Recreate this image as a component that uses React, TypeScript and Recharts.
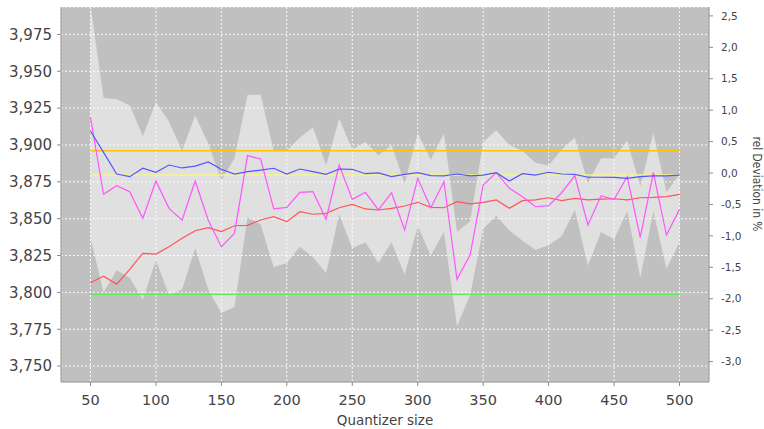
import { ComposedChart, Line, Area, XAxis, YAxis, CartesianGrid, Label } from 'recharts';

const SIZES = [
  50, 60, 70, 80, 90, 100, 110, 120, 130, 140, 150, 160, 170, 180, 190, 200,
  210, 220, 230, 240, 250, 260, 270, 280, 290, 300, 310, 320, 330, 340, 350,
  360, 370, 380, 390, 400, 410, 420, 430, 440, 450, 460, 470, 480, 490, 500,
];

// grey envelope (min / max)
const BAND_HIGH = [
  3.995, 3.932, 3.931, 3.927, 3.906, 3.929, 3.916, 3.896, 3.92, 3.901, 3.876, 3.891, 3.934, 3.934, 3.896, 3.896,
  3.905, 3.912, 3.886, 3.918, 3.897, 3.902, 3.893, 3.9, 3.874, 3.908, 3.89, 3.908, 3.841, 3.848, 3.902,
  3.91, 3.9, 3.896, 3.888, 3.886, 3.897, 3.905, 3.874, 3.891, 3.891, 3.903, 3.872, 3.908, 3.868, 3.88,
];
const BAND_LOW = [
  3.837, 3.8, 3.815, 3.81, 3.795, 3.822, 3.798, 3.802, 3.83, 3.802, 3.786, 3.79, 3.851, 3.846, 3.817, 3.82,
  3.831, 3.824, 3.813, 3.853, 3.83, 3.834, 3.82, 3.834, 3.812, 3.845, 3.825, 3.841, 3.777, 3.798, 3.843,
  3.852, 3.842, 3.835, 3.829, 3.832, 3.838, 3.856, 3.818, 3.841, 3.836, 3.855, 3.81, 3.855, 3.816, 3.834,
];

const BLUE = [
  3.9095, 3.895, 3.8803, 3.8785, 3.8842, 3.8815, 3.8864, 3.8844, 3.8857, 3.8885, 3.8835, 3.8803, 3.8819, 3.883, 3.8842, 3.8803,
  3.8837, 3.8819, 3.8801, 3.8837, 3.8835, 3.8805, 3.881, 3.8785, 3.8801, 3.8812, 3.8792, 3.879, 3.8803, 3.879, 3.8796,
  3.8812, 3.8756, 3.8805, 3.8796, 3.8815, 3.8803, 3.8801, 3.8781, 3.8781, 3.878, 3.8774, 3.8785, 3.879, 3.879, 3.8796,
];
const MAGENTA = [
  3.9188, 3.8665, 3.8724, 3.8683, 3.8502, 3.8756, 3.857, 3.849, 3.8756, 3.849, 3.831, 3.84, 3.8928, 3.8905, 3.8566, 3.8577,
  3.8679, 3.8683, 3.8496, 3.8864, 3.8631, 3.8679, 3.8559, 3.8676, 3.8423, 3.8774, 3.8574, 3.8751, 3.8088, 3.8253, 3.8728,
  3.8812, 3.8706, 3.8649, 3.8581, 3.8588, 3.8676, 3.8792, 3.8457, 3.8654, 3.8631, 3.8785, 3.8373, 3.8812, 3.8389, 3.8563,
];
const RED = [
  3.8065, 3.811, 3.8056, 3.8156, 3.8265, 3.826, 3.831, 3.8367, 3.8418, 3.8439, 3.8412, 3.8452, 3.8455, 3.8491, 3.8514, 3.848,
  3.8547, 3.853, 3.8536, 3.8574, 3.8597, 3.8566, 3.8559, 3.857, 3.8586, 3.8611, 3.8577, 3.8574, 3.8615, 3.86, 3.8611,
  3.8627, 3.857, 3.8622, 3.8627, 3.8642, 3.8622, 3.8638, 3.8627, 3.8633, 3.8635, 3.8627, 3.8642, 3.8644, 3.8649, 3.8665,
];

const ORANGE_LEVEL = 3.8961;
const YELLOW_LEVEL = 3.8796;
const GREEN_LEVEL = 3.7988;

const X_TICKS = [50, 100, 150, 200, 250, 300, 350, 400, 450, 500];
const LEFT_TICKS = [3.75, 3.775, 3.8, 3.825, 3.85, 3.875, 3.9, 3.925, 3.95, 3.975];
const RIGHT_TICKS = [-3, -2.5, -2, -1.5, -1, -0.5, 0, 0.5, 1, 1.5, 2, 2.5];

const rows = SIZES.map((q, i) => ({
  q,
  band: [BAND_LOW[i], BAND_HIGH[i]],
  blue: BLUE[i],
  magenta: MAGENTA[i],
  red: RED[i],
  orange: ORANGE_LEVEL,
  yellow: YELLOW_LEVEL,
  green: GREEN_LEVEL,
}));

const AXIS = '#8c8c8c';
const TEXT = '#444444';

const fmt3 = (v: number) => v.toFixed(3).replace('.', ',');
const fmt1 = (v: number) => v.toFixed(1).replace('.', ',');

export default function App() {
  return (
    <div style={{ position: 'absolute', left: 0, top: 0, width: 764, height: 429, background: '#fff', fontFamily: 'DejaVu Sans' }}>
      <ComposedChart width={764} height={429} data={rows} margin={{ top: 7, right: 0, bottom: 0, left: 0 }}>
        <CartesianGrid yAxisId="left" fill="#c0c0c0" stroke="#ffffff" strokeDasharray="2 2" strokeOpacity={0.9} />
        <XAxis
          dataKey="q"
          type="number"
          domain={[27.5, 522.5]}
          ticks={X_TICKS}
          allowDataOverflow
          height={47}
          tickSize={4}
          tickMargin={9}
          axisLine={{ stroke: AXIS }}
          tickLine={{ stroke: AXIS }}
          tick={{ fill: TEXT, fontSize: 14.5 }}
        >
          <Label value="Quantizer size" position="insideBottom" offset={4} fill={TEXT} fontSize={13.5} />
        </XAxis>
        <XAxis
          xAxisId="top"
          orientation="top"
          dataKey="q"
          type="number"
          domain={[27.5, 522.5]}
          height={0}
          tick={false}
          tickLine={false}
          axisLine={{ stroke: '#9a9a9a' }}
        />
        <YAxis
          yAxisId="left"
          type="number"
          domain={[3.7392, 3.9936]}
          ticks={LEFT_TICKS}
          allowDataOverflow
          width={61}
          tickSize={4}
          tickMargin={5}
          tickFormatter={fmt3}
          axisLine={{ stroke: AXIS }}
          tickLine={{ stroke: AXIS }}
          tick={{ fill: TEXT, fontSize: 15 }}
        />
        <YAxis
          yAxisId="right"
          orientation="right"
          type="number"
          domain={[-3.3254, 2.6416]}
          ticks={RIGHT_TICKS}
          allowDataOverflow
          width={55}
          tickSize={4}
          tickMargin={8}
          tickFormatter={fmt1}
          axisLine={{ stroke: AXIS }}
          tickLine={{ stroke: AXIS }}
          tick={{ fill: TEXT, fontSize: 10.5 }}
        >
          <Label
            content={() => (
              <text
                x={757}
                y={184}
                transform="rotate(90 757 184)"
                textAnchor="middle"
                dominantBaseline="central"
                fontSize={13}
                textLength={95}
                lengthAdjust="spacingAndGlyphs"
                fill={TEXT}
              >
                rel Deviation in %
              </text>
            )}
          />
        </YAxis>

        <Area yAxisId="left" dataKey="band" fill="#ffffff" fillOpacity={0.5} stroke="none" isAnimationActive={false} />
        <Line yAxisId="left" dataKey="yellow" stroke="#f4f48a" strokeWidth={1.5} dot={false} activeDot={false} isAnimationActive={false} />
        <Line yAxisId="left" dataKey="orange" stroke="#ffc400" strokeWidth={1.5} dot={false} activeDot={false} isAnimationActive={false} />
        <Line yAxisId="left" dataKey="green" stroke="#5cf05c" strokeWidth={1.5} dot={false} activeDot={false} isAnimationActive={false} />
        <Line yAxisId="left" dataKey="red" stroke="#ff5555" strokeWidth={1.2} dot={false} activeDot={false} isAnimationActive={false} />
        <Line yAxisId="left" dataKey="magenta" stroke="#ff55ff" strokeWidth={1.2} dot={false} activeDot={false} isAnimationActive={false} />
        <Line yAxisId="left" dataKey="blue" stroke="#5555ff" strokeWidth={1.2} dot={false} activeDot={false} isAnimationActive={false} />
      </ComposedChart>
    </div>
  );
}
